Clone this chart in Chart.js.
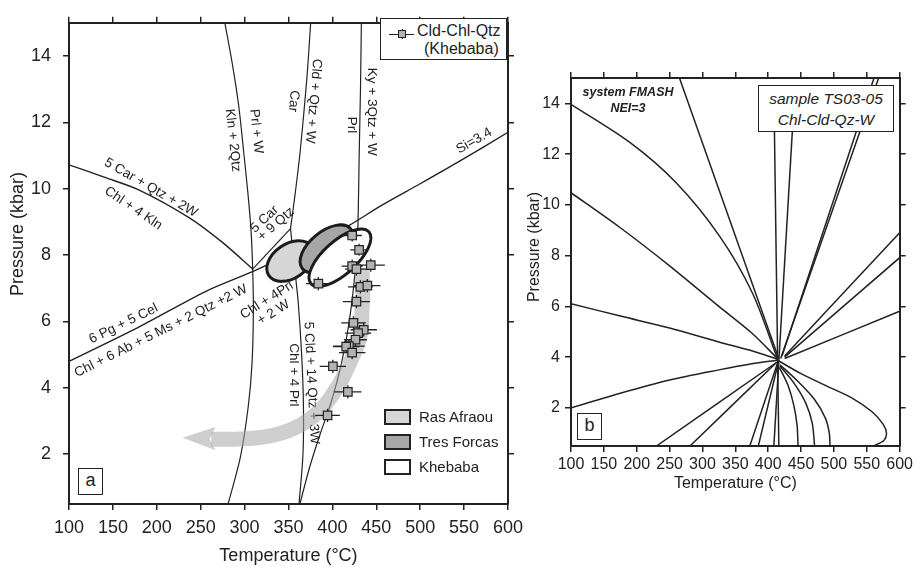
<!DOCTYPE html>
<html>
<head>
<meta charset="utf-8">
<script src="https://cdn.jsdelivr.net/npm/chart.js@4.4.1/dist/chart.umd.min.js"></script>
<style>
  body { margin: 0; background: #fff; }
  #page { position: relative; width: 916px; height: 567px; overflow: hidden; font-family: 'Liberation Sans', Arial, Helvetica, sans-serif; color: #222; }
  canvas { position: absolute; }
  #chartA { left: 0; top: 0; }
  #chartB { left: 516px; top: 0; }
  .box { position: absolute; box-sizing: border-box; border: 1.5px solid #222; background: #fff; }
  .txt { position: absolute; white-space: nowrap; line-height: 18px; }
  .ytitle { position: absolute; width: 200px; text-align: center; transform: rotate(-90deg); white-space: nowrap; }
  .swatch { position: absolute; box-sizing: border-box; border: 2px solid #222; width: 27px; height: 16px; }
</style>
</head>
<body>
<div id="page">
  <canvas id="chartA" width="530" height="567"></canvas>
  <canvas id="chartB" width="400" height="500"></canvas>

  <div class="ytitle" style="left:-83px;top:223px;font-size:18px;line-height:22px">Pressure (kbar)</div>
  <div class="ytitle" style="left:434px;top:237px;font-size:16px;line-height:20px">Pressure (kbar)</div>

  <div class="box" style="left:380px;top:18px;width:127px;height:42px">
    <div style="position:absolute;left:8px;top:14.5px;width:25px;height:1.4px;background:#222"></div>
    <div style="position:absolute;left:20.5px;top:10px;width:1.4px;height:10px;background:#222"></div>
    <div style="position:absolute;left:17px;top:11px;width:8px;height:8px;box-sizing:border-box;border:1.2px solid #222;background:#b3b3b3"></div>
    <div class="txt" style="left:36px;top:3px;font-size:16px">Cld-Chl-Qtz</div>
    <div class="txt" style="left:43px;top:21px;font-size:16px">(Khebaba)</div>
  </div>

  <div class="swatch" style="left:384px;top:409px;background:#d6d6d6"></div>
  <div class="swatch" style="left:384px;top:434px;background:#a6a6a6"></div>
  <div class="swatch" style="left:384px;top:459px;background:#fff"></div>
  <div class="txt" style="left:419px;top:408px;font-size:15px">Ras Afraou</div>
  <div class="txt" style="left:419px;top:433px;font-size:15px">Tres Forcas</div>
  <div class="txt" style="left:419px;top:458px;font-size:15px">Khebaba</div>

  <div class="box" style="left:78px;top:468px;width:25px;height:27px;text-align:center;font-size:18px;line-height:23px">a</div>
  <div class="box" style="left:577px;top:413px;width:25px;height:27px;text-align:center;font-size:18px;line-height:23px">b</div>

  <div class="box" style="left:758px;top:85px;width:136px;height:47px;text-align:center;font-style:italic;font-size:15.5px;line-height:21px;padding-top:2px">sample TS03-05<br>Chl-Cld-Qz-W</div>
  <div class="txt" style="left:578px;top:84px;width:100px;text-align:center;font-style:italic;font-weight:bold;font-size:12.5px;line-height:16px">system FMASH<br>NEI=3</div>
</div>

<script>
// shared axes
const tempTicks = [100, 150, 200, 250, 300, 350, 400, 450, 500, 550, 600];
const pressTicks = [2, 4, 6, 8, 10, 12, 14];

// (a) reaction curves, [T °C, P kbar]
const klnPrl = [[277.5, 15], [285.8, 13.8], [293.3, 12.5], [299, 11.1], [303.9, 9.83], [307.3, 8.76], [309.2, 7.58], [310, 6.3], [308.4, 4.7], [304, 3.4], [295.2, 1.91], [281.2, 0.5]];
const carCldUpper = [[375.3, 15], [370.7, 13.25], [363.2, 11.1], [357.5, 9.83], [352.3, 8.8]];
const carCldLower = [[352.3, 8.8], [357, 7.6], [361, 6.6], [365, 5.0], [367, 3.5], [366.5, 2.0], [362, 0.5]];
const prlKy = [[433, 15], [432, 13], [430.5, 11], [429.3, 9.08], [428, 8.2], [424, 7.0], [418, 5.8], [410, 4.7], [399, 3.6], [386, 2.6], [374, 1.6], [363, 0.5]];
const carKln = [[100, 10.72], [140, 10.35], [180, 9.96], [236.7, 9.13], [274.4, 8.39], [309.2, 7.58]];
const carQtz = [[309.2, 7.58], [352.3, 8.8]];
const pgCel = [[100, 4.8], [180, 5.84], [256, 6.91], [309, 7.5], [340, 7.88], [380, 8.38], [418, 8.88], [456, 9.5], [500, 10.15], [543, 10.8], [600, 11.7]];

// (a) P-T fields: centre, end of long axis, end of short axis
const rasAfraou = [[351.9, 7.82], [376.1, 8.26], [340.6, 8.24]];
const tresForcas = [[393.4, 8.19], [420.9, 8.79], [406.1, 7.8]];
const khebaba = [[408.6, 7.92], [441.5, 8.7], [421.3, 7.55]];

// (a) Cld-Chl-Qtz estimates (Khebaba) with errors
const sampleT = [422.5, 430.4, 422.5, 427.4, 443.7, 384, 431.9, 439.8, 427.4, 424, 435.7, 429.3, 426.3, 418.8, 415.7, 422.5, 400.6, 417.6, 394.5];
const sampleP = [8.59, 8.16, 7.67, 7.58, 7.70, 7.14, 7.04, 7.08, 6.60, 5.96, 5.75, 5.65, 5.45, 5.26, 5.24, 5.06, 4.65, 3.88, 3.17];
const errT = [11, 10, 12, 13, 16, 14, 14, 15, 15.5, 14, 15, 15, 13, 18, 15, 15, 15, 15.5, 14];
const errP = [0.18, 0.18, 0.2, 0.2, 0.2, 0.2, 0.2, 0.2, 0.2, 0.2, 0.2, 0.2, 0.2, 0.2, 0.2, 0.2, 0.2, 0.2, 0.2];

// (a) retrograde path and its arrow head
const exhumation = [[433.8, 7.6], [434.5, 6.8], [434, 6.52], [431.2, 5.53], [418, 4.65], [406.7, 4.06], [387.8, 3.37], [365, 2.9], [340, 2.62], [310, 2.48], [280, 2.45], [262, 2.45]];
const arrowHead = [[229.3, 2.5], [267, 2.82], [260, 2.46], [267, 2.12]];

// (b) FMASH invariant-point bundle
const fanB = [
  [[100, 13.96], [190, 12.45], [260, 10.87], [326, 8.77], [376, 6.53], [414, 3.95]],
  [[100, 10.48], [175, 9.1], [250, 7.6], [325, 6.0], [375, 4.95], [414, 3.95]],
  [[100, 6.11], [175, 5.62], [250, 5.15], [325, 4.6], [375, 4.25], [414, 3.92]],
  [[100, 2.0], [175, 2.58], [250, 3.1], [325, 3.5], [375, 3.74], [414, 3.88]],
  [[265, 15], [416, 3.95]],
  [[408.6, 14.6], [416.2, 0.5]],
  [[440.6, 14.6], [408.6, 0.5]],
  [[568, 15], [419, 3.95]],
  [[561, 15], [421, 4.05]],
  [[425, 4.05], [600, 8.9]],
  [[425, 4.0], [600, 7.92]],
  [[425, 3.95], [600, 5.81]],
  [[416, 3.85], [450, 3.35], [490, 2.85], [527, 2.4], [558, 1.85], [575, 1.35], [580, 1.0], [576, 0.72], [560, 0.5]],
  [[418, 3.7], [445, 3.05], [470, 2.35], [487, 1.6], [493, 1.0], [494, 0.5]],
  [[418, 3.65], [440, 2.95], [457, 2.2], [467, 1.4], [470.6, 0.5]],
  [[417, 3.6], [430, 2.9], [439, 2.1], [444, 1.3], [445.4, 0.5]],
  [[230, 0.5], [413, 3.8]],
  [[281, 0.5], [413, 3.8]],
  [[372, 0.5], [414, 3.75]],
  [[385, 0.5], [415, 3.75]]
];

// reaction labels for (a): text, T, P, angle
const reactionLabels = [
  ['Kln + 2Qtz', 286.6, 11.46, 84],
  ['Prl + W', 313.2, 11.73, 84],
  ['Car', 355.7, 12.64, 95],
  ['Cld + Qtz + W', 378.3, 12.64, 95],
  ['Prl', 421.7, 11.92, 90],
  ['Ky + 3Qtz + W', 444.4, 12.32, 90],
  ['Si=3.4', 561.5, 11.44, -30],
  ['5 Car + Qtz + 2W', 193.3, 10.03, 30],
  ['Chl + 4 Kln', 173.3, 9.41, 34],
  ['5 Car', 322.6, 9.08, -43],
  ['+ 9 Qtz', 335.9, 8.93, -41],
  ['6 Pg + 5 Cel', 162, 5.93, -26],
  ['Chl + 6 Ab + 5 Ms + 2 Qtz +2 W', 204.7, 5.71, -26.6],
  ['Chl + 4Prl', 325.4, 6.64, -32],
  ['+ 2 W', 333, 6.27, -32],
  ['5 Cld + 14 Qtz + 3W', 376, 4.15, 87],
  ['Chl + 4 Prl', 355.7, 4.39, 90]
];

const ink = '#222';
const FONT = "'Liberation Sans', Arial, Helvetica, sans-serif";
const pts = (arr) => arr.map(([x, y]) => ({ x, y }));

const frame = (o) => {
  const grid = { drawOnChartArea: false, color: ink, lineWidth: 1.5, tickLength: 6 };
  const border = { color: ink, width: 2 };
  const xTicks = (s) => { s.ticks = tempTicks.map((v) => ({ value: v })); };
  const yTicks = (s) => { s.ticks = pressTicks.map((v) => ({ value: v })); };
  return {
    x: {
      type: 'linear', position: 'bottom', min: 100, max: 600,
      afterBuildTicks: xTicks, afterFit: (s) => { s.height = o.bottom; },
      ticks: { color: ink, font: { family: FONT, size: o.tick }, padding: o.xPad, maxRotation: 0, autoSkip: false },
      grid, border,
      title: { display: true, text: 'Temperature (°C)', color: ink, font: { family: FONT, size: o.title }, padding: { top: 0, bottom: o.titlePad } }
    },
    xTop: {
      type: 'linear', position: 'top', min: 100, max: 600,
      afterBuildTicks: xTicks, afterFit: (s) => { s.height = o.top; },
      ticks: { display: false }, grid, border
    },
    y: {
      type: 'linear', position: 'left', min: 0.5, max: 15,
      afterBuildTicks: yTicks, afterFit: (s) => { s.width = o.left; },
      ticks: { color: ink, font: { family: FONT, size: o.tick }, padding: o.yPad },
      grid, border
    },
    yRight: {
      type: 'linear', position: 'right', min: 0.5, max: 15,
      afterBuildTicks: yTicks, afterFit: (s) => { s.width = o.right; },
      ticks: { display: false }, grid, border
    }
  };
};

const curve = (data, width, tension = 0.3) => ({
  data: pts(data), showLine: true, pointRadius: 0, borderColor: ink, borderWidth: width,
  tension, fill: false, order: 2
});

const drawField = (chart, field, fill) => {
  const { ctx, scales: { x, y } } = chart;
  const cx = x.getPixelForValue(field[0][0]);
  const cy = y.getPixelForValue(field[0][1]);
  const ax = x.getPixelForValue(field[1][0]) - cx;
  const ay = y.getPixelForValue(field[1][1]) - cy;
  const bx = x.getPixelForValue(field[2][0]) - cx;
  const by = y.getPixelForValue(field[2][1]) - cy;
  ctx.save();
  ctx.beginPath();
  ctx.ellipse(cx, cy, Math.hypot(ax, ay), Math.hypot(bx, by), Math.atan2(ay, ax), 0, Math.PI * 2);
  ctx.fillStyle = fill;
  ctx.fill();
  ctx.lineWidth = 3;
  ctx.strokeStyle = '#1c1c1c';
  ctx.stroke();
  ctx.restore();
};

const panelA = {
  id: 'panelA',
  beforeDatasetDraw(chart, args) {
    const { ctx, scales: { x, y } } = chart;
    const label = chart.data.datasets[args.index].label;
    if (label === 'path') {
      ctx.save();
      ctx.font = `13.5px ${FONT}`;
      ctx.fillStyle = ink;
      ctx.textAlign = 'center';
      ctx.textBaseline = 'middle';
      reactionLabels.forEach(([text, t, p, deg]) => {
        ctx.save();
        ctx.translate(x.getPixelForValue(t), y.getPixelForValue(p));
        ctx.rotate(deg * Math.PI / 180);
        ctx.fillText(text, 0, 0);
        ctx.restore();
      });
      ctx.restore();
      drawField(chart, rasAfraou, '#d6d6d6');
      drawField(chart, tresForcas, '#a6a6a6');
      drawField(chart, khebaba, '#ffffff');
    }
    if (label === 'Cld-Chl-Qtz') {
      ctx.save();
      ctx.strokeStyle = ink;
      ctx.lineWidth = 1.3;
      ctx.beginPath();
      sampleT.forEach((t, i) => {
        const px = x.getPixelForValue(t);
        const py = y.getPixelForValue(sampleP[i]);
        ctx.moveTo(x.getPixelForValue(t - errT[i]), py);
        ctx.lineTo(x.getPixelForValue(t + errT[i]), py);
        ctx.moveTo(px, y.getPixelForValue(sampleP[i] - errP[i]));
        ctx.lineTo(px, y.getPixelForValue(sampleP[i] + errP[i]));
      });
      ctx.stroke();
      ctx.restore();
    }
  },
  afterDatasetDraw(chart, args) {
    if (chart.data.datasets[args.index].label !== 'path') return;
    const { ctx, scales: { x, y } } = chart;
    ctx.save();
    ctx.beginPath();
    arrowHead.forEach(([t, p], i) => {
      const px = x.getPixelForValue(t);
      const py = y.getPixelForValue(p);
      if (i === 0) ctx.moveTo(px, py); else ctx.lineTo(px, py);
    });
    ctx.closePath();
    ctx.fillStyle = 'rgba(165,165,165,0.55)';
    ctx.fill();
    ctx.restore();
  }
};

const baseOptions = (o) => ({
  responsive: false,
  animation: false,
  events: [],
  layout: { padding: 0 },
  plugins: { legend: { display: false }, tooltip: { enabled: false } },
  scales: frame(o)
});

new Chart(document.getElementById('chartA'), {
  type: 'scatter',
  data: {
    datasets: [
      {
        label: 'Cld-Chl-Qtz',
        data: sampleT.map((t, i) => ({ x: t, y: sampleP[i] })),
        pointStyle: 'rect', pointRadius: 6, backgroundColor: '#b3b3b3', borderColor: ink, borderWidth: 1.2,
        order: 0
      },
      {
        label: 'path',
        data: pts(exhumation), showLine: true, pointRadius: 0, tension: 0.35,
        borderColor: 'rgba(165,165,165,0.55)', borderWidth: 15, borderCapStyle: 'butt', order: 1
      },
      curve(klnPrl, 1.2),
      curve(carCldUpper, 1.2),
      curve(carCldLower, 1.2),
      curve(prlKy, 1.2),
      curve(carKln, 1.4),
      curve(carQtz, 1.2, 0),
      curve(pgCel, 1.4)
    ]
  },
  options: baseOptions({ left: 69, right: 19, top: 13, bottom: 63, tick: 18, title: 18, xPad: 7, yPad: 12, titlePad: 0 }),
  plugins: [panelA]
});

new Chart(document.getElementById('chartB'), {
  type: 'scatter',
  data: { datasets: fanB.map((line) => curve(line, 1.5)) },
  options: baseOptions({ left: 55, right: 14, top: 78, bottom: 54, tick: 16, title: 16, xPad: 3, yPad: 5, titlePad: 7 })
});
</script>
</body>
</html>
